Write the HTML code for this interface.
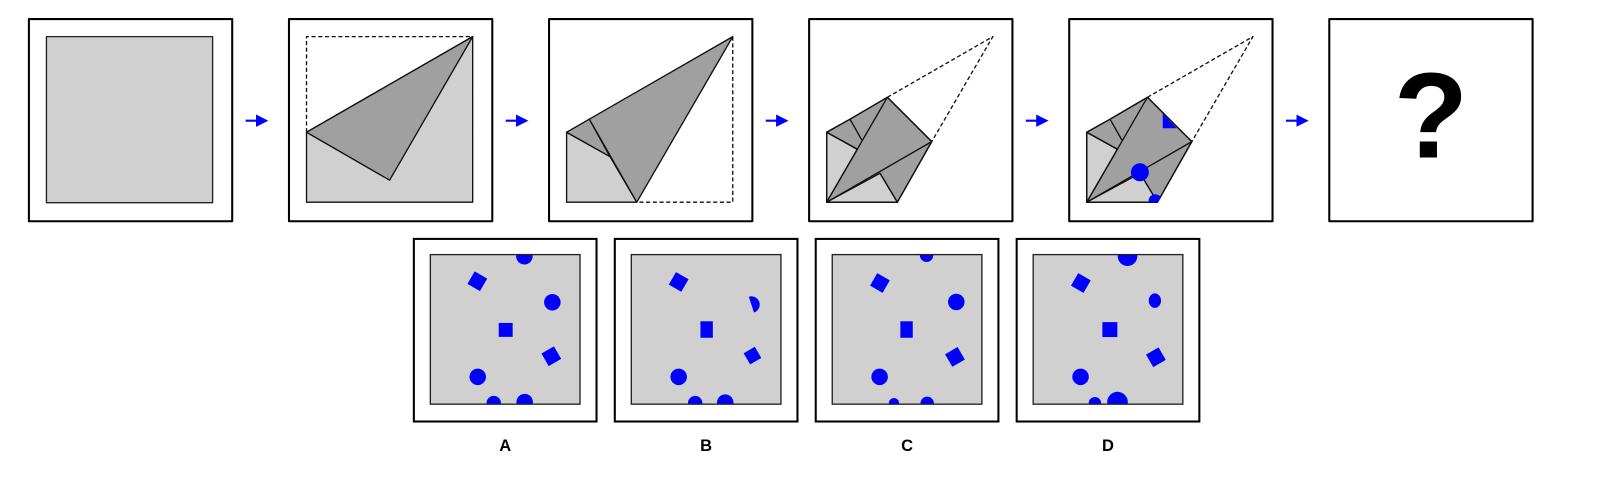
<!DOCTYPE html>
<html><head><meta charset="utf-8"><style>
html,body{margin:0;padding:0;background:#fff;}
svg{display:block;}
text{font-family:"Liberation Sans",Arial,sans-serif;font-weight:bold;}
</style></head><body>
<svg width="1610" height="490" viewBox="0 0 1560 475" preserveAspectRatio="none" xmlns="http://www.w3.org/2000/svg">
<defs>
<marker id="ah" markerWidth="6" markerHeight="6" refX="5" refY="3" orient="auto"><path d="M0,0 L6,3 L0,6 z" fill="#0000ff"/></marker>
</defs>
<g stroke-linejoin="round">
<!-- Panel 1 -->
<g transform="translate(28,18.5)">
<rect x="0" y="0" width="197" height="196" fill="#fff" stroke="#000" stroke-width="2"/>
<rect x="17" y="17" width="161" height="161" fill="#d0d0d0" stroke="#222" stroke-width="1.3"/>
</g>
<line x1="238" y1="117" x2="258" y2="117" stroke="#0000ff" stroke-width="2" marker-end="url(#ah)"/>
<!-- Panel 2 -->
<g transform="translate(280,18.5)">
<rect x="0" y="0" width="197" height="196" fill="#fff" stroke="#000" stroke-width="2"/>
<g transform="translate(17,17)" stroke="#111" stroke-width="1.3">
<path d="M0,92.7 L0,0 L161,0" fill="none" stroke-dasharray="4,2.5"/>
<polygon points="0,92.7 161,0 161,160.5 0,160.5" fill="#d0d0d0"/>
<polygon points="0,92.7 161,0 80.5,139.2" fill="#a0a0a0"/>
</g></g>
<line x1="490" y1="117" x2="510" y2="117" stroke="#0000ff" stroke-width="2" marker-end="url(#ah)"/>
<!-- Panel 3 -->
<g transform="translate(532,18.5)">
<rect x="0" y="0" width="197" height="196" fill="#fff" stroke="#000" stroke-width="2"/>
<g transform="translate(17,17)" stroke="#111" stroke-width="1.3">
<path d="M161,0 L161,160.5 L68,160.5" fill="none" stroke-dasharray="4,2.5"/>
<polygon points="0,92.7 42,116.3 68,160.5 0,160.5" fill="#d0d0d0"/>
<polygon points="0,92.7 22,80 42,116.3" fill="#a0a0a0"/>
<polygon points="22,80 161,0 68,160.5" fill="#a0a0a0"/>
</g></g>
<line x1="742" y1="117" x2="762" y2="117" stroke="#0000ff" stroke-width="2" marker-end="url(#ah)"/>
<!-- Panel 4 -->
<g transform="translate(784,18.5)">
<rect x="0" y="0" width="197" height="196" fill="#fff" stroke="#000" stroke-width="2"/>
<g transform="translate(17,17)" stroke="#111" stroke-width="1.3">
<path d="M58.8,58.8 L161,0 L101.8,101.8" fill="none" stroke-dasharray="4,2.5"/>
<polygon points="0,92.7 22.6,80 58.8,58.8 101.8,101.8 68.5,160.5 0,160.5" fill="#a0a0a0"/>
<polygon points="0,92.7 29.7,109.2 0,160.5" fill="#d0d0d0"/>
<polygon points="0,160.5 51.7,132.5 68.5,160.5" fill="#d0d0d0"/>
<polygon points="0,92.7 22.6,80 58.8,58.8 101.8,101.8 68.5,160.5 0,160.5" fill="none"/>
<line x1="0" y1="160.5" x2="58.8" y2="58.8"/>
<line x1="0" y1="160.5" x2="101.8" y2="101.8"/>
<line x1="0" y1="92.7" x2="29.7" y2="109.2"/>
<line x1="22.6" y1="80" x2="34" y2="100.2"/>
<line x1="51.7" y1="132.5" x2="68.5" y2="160.5"/>
</g></g>
<line x1="994" y1="117" x2="1014" y2="117" stroke="#0000ff" stroke-width="2" marker-end="url(#ah)"/>
<!-- Panel 5 -->
<g transform="translate(1036,18.5)">
<rect x="0" y="0" width="197" height="196" fill="#fff" stroke="#000" stroke-width="2"/>
<g transform="translate(17,17)" stroke="#111" stroke-width="1.3">
<path d="M58.8,58.8 L161,0 L101.8,101.8" fill="none" stroke-dasharray="4,2.5"/>
<polygon points="0,92.7 22.6,80 58.8,58.8 101.8,101.8 68.5,160.5 0,160.5" fill="#a0a0a0"/>
<polygon points="0,92.7 29.7,109.2 0,160.5" fill="#d0d0d0"/>
<polygon points="0,160.5 51.7,132.5 68.5,160.5" fill="#d0d0d0"/>
<polygon points="0,92.7 22.6,80 58.8,58.8 101.8,101.8 68.5,160.5 0,160.5" fill="none"/>
<line x1="0" y1="160.5" x2="58.8" y2="58.8"/>
<line x1="0" y1="160.5" x2="101.8" y2="101.8"/>
<line x1="0" y1="92.7" x2="29.7" y2="109.2"/>
<line x1="22.6" y1="80" x2="34" y2="100.2"/>
<line x1="51.7" y1="132.5" x2="68.5" y2="160.5"/>
<polygon points="73.6,74.3 73.6,88.8 87.2,88.8" fill="#0000ff" stroke="none"/>
<circle cx="51.5" cy="131.5" r="8.7" fill="#0000ff" stroke="none"/>
<path d="M60,160.5 A6.5,6.5 0 0 1 72,156 L68.5,160.5 z" fill="#0000ff" stroke="none"/>
</g></g>
<line x1="1246" y1="117" x2="1266" y2="117" stroke="#0000ff" stroke-width="2" marker-end="url(#ah)"/>
<!-- Panel 6 -->
<g transform="translate(1288,18.5)">
<rect x="0" y="0" width="197" height="196" fill="#fff" stroke="#000" stroke-width="2"/>
<text x="98.5" y="134" font-size="118" text-anchor="middle" fill="#000">?</text>
</g>
</g>

<g id="options"></g>
</svg>
<script>
// option shape data: [type, cx, cy, size, rotation]
const optionLabels = ['A','B','C','D'];
const optA = [['c',91.1,1.6,8,0],['s',45.5,25.8,14,30],['c',118.2,46.2,8,0],['s',73,73,13.5,0],['s',117.2,98.5,14,-30],['c',45.9,118.5,8,0],['c',61.4,144,7,0],['c',91.4,143,8,0]];
const optB = [['s',45.9,26.5,14,30],['h',120,46.8,8,0],['r',73,72.7,12,0],['s',117.4,97.9,12.5,-30],['c',45.9,118.5,8,0],['c',61.9,144,7,0],['c',91,143.5,8,0]];
const optC = [['c',91.4,0.6,6.5,0],['s',46.2,27.5,14,30],['c',120.2,45.9,8,0],['r',72,72.7,12,0],['s',118.9,99.2,14,-30],['c',45.9,118.5,8,0],['c',59.8,144,5,0],['c',92,144.2,6.5,0]];
const optD = [['c',91.4,1.6,9.5,0],['s',46.2,27.5,14,30],['e',117.9,44.6,7,0],['s',74.3,72.7,14.5,0],['s',118.9,99.5,14,-30],['c',45.9,118.5,8,0],['c',59.8,144,6,0],['c',81.7,143,10,0]];
const optShapes = [optA, optB, optC, optD];
const NS = 'http://www.w3.org/2000/svg';
const root = document.getElementById('options');
optionLabels.forEach((lab, i) => {
  const ox = 401 + 194.7 * i, oy = 231.6;
  const g = document.createElementNS(NS, 'g');
  
  
  g.setAttribute('transform', `translate(${ox},${oy})`);
  const fr = document.createElementNS(NS, 'rect');
  
  
  fr.setAttribute('x', 0); fr.setAttribute('y', 0); fr.setAttribute('width', 177); fr.setAttribute('height', 177);
  fr.setAttribute('fill', '#fff'); fr.setAttribute('stroke', '#000'); fr.setAttribute('stroke-width', 2);
  g.appendChild(fr);
  const inner = document.createElementNS(NS, 'g');
  inner.setAttribute('transform', 'translate(16,15.2)');
  const cpId = 'cp' + i;
  const cp = document.createElementNS(NS, 'clipPath'); cp.setAttribute('id', cpId);
  const cr = document.createElementNS(NS, 'rect'); cr.setAttribute('width', 145); cr.setAttribute('height', 145);
  cp.appendChild(cr); inner.appendChild(cp);
  const paper = document.createElementNS(NS, 'rect');
  
  
  paper.setAttribute('width', 145); paper.setAttribute('height', 145);
  paper.setAttribute('fill', '#d0d0d0');
  inner.appendChild(paper);
  const holes = document.createElementNS(NS, 'g'); holes.setAttribute('clip-path', `url(#${cpId})`);
  optShapes[i].forEach(s => {
    const [t, x, y, sz, rot] = s;
    let el;
    if (t === 'c') { el = document.createElementNS(NS, 'circle'); el.setAttribute('cx', x); el.setAttribute('cy', y); el.setAttribute('r', sz); }
    else if (t === 'e') { el = document.createElementNS(NS, 'ellipse'); el.setAttribute('cx', x); el.setAttribute('cy', y); el.setAttribute('rx', sz*0.85); el.setAttribute('ry', sz); }
    else if (t === 'h') { el = document.createElementNS(NS, 'path'); el.setAttribute('d', `M${x-3},${y-8} A8,8 0 0 1 ${x-5},${y+8} z`); el.setAttribute('transform', `rotate(-25 ${x} ${y})`); }
    else if (t === 'r') { el = document.createElementNS(NS, 'rect'); el.setAttribute('x', x - sz/2); el.setAttribute('y', y - sz*0.67); el.setAttribute('width', sz); el.setAttribute('height', sz*1.33); }
    else { el = document.createElementNS(NS, 'rect'); el.setAttribute('x', x - sz/2); el.setAttribute('y', y - sz/2); el.setAttribute('width', sz); el.setAttribute('height', sz); el.setAttribute('transform', `rotate(${rot} ${x} ${y})`); }
    
    
    el.setAttribute('fill', '#0000ff');
    holes.appendChild(el);
  });
  inner.appendChild(holes);
  const border = document.createElementNS(NS, 'rect');
  border.setAttribute('width', 145); border.setAttribute('height', 145);
  border.setAttribute('fill', 'none'); border.setAttribute('stroke', '#222'); border.setAttribute('stroke-width', 1.3);
  inner.appendChild(border);
  g.appendChild(inner);
  root.appendChild(g);
  const tx = document.createElementNS(NS, 'text');
  
  
  tx.setAttribute('x', ox + 88.5); tx.setAttribute('y', 437);
  tx.setAttribute('text-anchor', 'middle'); tx.setAttribute('font-size', 16); tx.setAttribute('fill', '#000');
  tx.textContent = lab;
  root.appendChild(tx);
});
</script>
</body></html>
